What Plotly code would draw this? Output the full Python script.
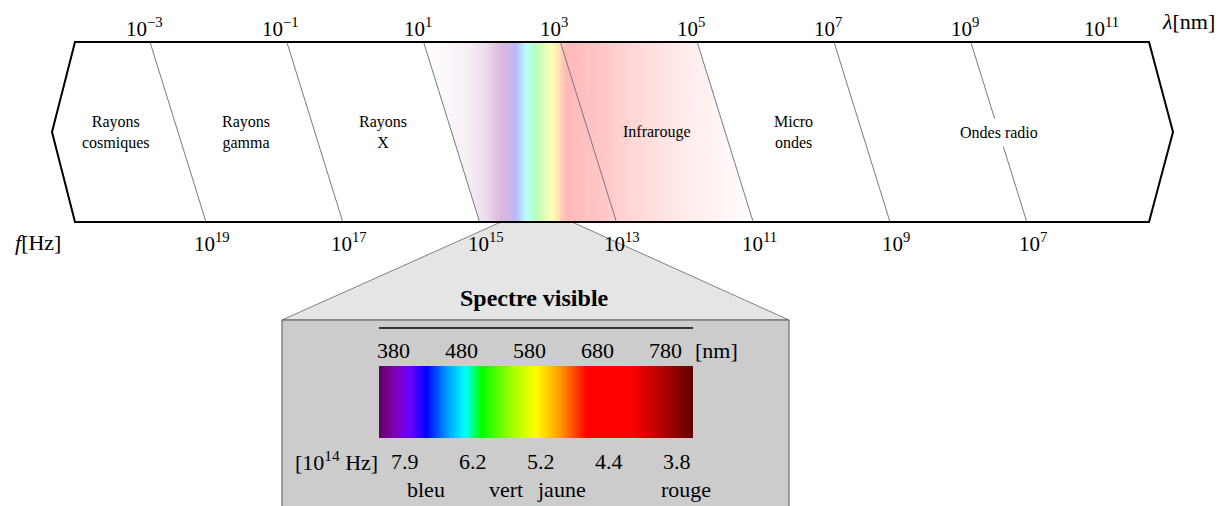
import numpy as np
import plotly.graph_objects as go

# ---------------- data ----------------
lambda_exp = [-3, -1, 1, 3, 5, 7, 9, 11]          # wavelength ticks, 10^e nm
freq_exp = [19, 17, 15, 13, 11, 9, 7]              # frequency ticks, 10^e Hz
band_names = ["Rayons<br>cosmiques", "Rayons<br>gamma", "Rayons<br>X",
              "Infrarouge", "Micro<br>ondes", "Ondes radio"]
band_center_exp = [-3.9, -2, 0, 4, 6, 9]          # band label centres (in log10 nm)
visible_nm = [380, 480, 580, 680, 780]             # visible tick labels [nm]
visible_freq = ["7.9", "6.2", "5.2", "4.4", "3.8"]  # [10^14 Hz]
color_names = ["bleu", "vert", "jaune", "rouge"]
color_name_nm = [428, 546, 628, 811]
visible_range_nm = [380, 780]
spectrum_nm = [380, 400, 420, 440, 465, 490, 510, 545, 580, 612, 645, 700, 740, 780]
spectrum_rgb = ["#610061", "#8200b5", "#6a00ff", "#0000ff", "#0092ff", "#00ffff",
                "#00ff00", "#92ff00", "#ffff00", "#ff9400", "#ff0000", "#ff0000",
                "#b50000", "#610000"]

# ---------------- geometry / style ----------------
FONT = "Liberation Serif"
X0, DEC, SLANT = 150.0, 68.4, 56.0
YT, YB = 42.0, 222.0
YM = (YT + YB) / 2
PAGE_OFF = 8  # default body margin of the html page


def xt(e):
    return X0 + (e - lambda_exp[0]) * DEC


def xmid(e):
    return xt(e) + SLANT / 2


# pastel gradient inside main band (offsets from the 10^1 line)
grad_off = [0, 45, 62, 77, 87, 92, 102, 112, 127, 135, 142, 177, 217, 257, 297, 337]
grad_col = ["#ffffff", "#f6eef6", "#ecdcee", "#dcb8dc", "#c8b8e8", "#b8b8ff", "#b8ffff",
            "#b8ffb8", "#ffffb8", "#ffe0b8", "#ffb8b8", "#ffc6c6", "#ffdada", "#ffeaea",
            "#fff5f5", "#ffffff"]

# inset geometry
BX0, BX1, BY0, BY1 = 379.0, 693.0, 366.0, 438.0
LBL0, LBLK = 393.0, 0.68


def lx(nm):
    return LBL0 + (nm - visible_nm[0]) * LBLK


fig = go.Figure()

# main band gradient
g0 = xt(1)
gx_edges = np.arange(g0, g0 + grad_off[-1] + 1, 1.0)
gz = [(gx_edges[:-1] + 0.5).tolist()]
gcs = [[o / grad_off[-1], c] for o, c in zip(grad_off, grad_col)]
fig.add_trace(go.Heatmap(z=gz, x=gx_edges, y=[YT, YB], colorscale=gcs,
                         zmin=g0, zmax=g0 + grad_off[-1], showscale=False,
                         hoverinfo="skip", zsmooth=False))

# inset spectrum bar
bx_edges = np.arange(BX0, BX1 + 0.5, 1.0)
centers = bx_edges[:-1] + 0.5
wl = visible_range_nm[0] + (centers - BX0) / (BX1 - BX0) * (visible_range_nm[1] - visible_range_nm[0])
scs = [[(n - spectrum_nm[0]) / (spectrum_nm[-1] - spectrum_nm[0]), c]
       for n, c in zip(spectrum_nm, spectrum_rgb)]
fig.add_trace(go.Heatmap(z=[wl.tolist()], x=bx_edges, y=[BY0, BY1], colorscale=scs,
                         zmin=spectrum_nm[0], zmax=spectrum_nm[-1], showscale=False,
                         hoverinfo="skip", zsmooth=False))

shapes = []
# callout trapezoid and box (below traces)
TL, TR, BOXT = 501.0, 572.0, 320.0
BL, BR = 282.0, 789.0
shapes.append(dict(type="path", layer="below",
                   path=f"M {TL},{YB} L {TR},{YB} L {BR},{BOXT} L {BL},{BOXT} Z",
                   fillcolor="#e5e5e5", line=dict(color="#808080", width=1)))
shapes.append(dict(type="rect", layer="below", x0=BL, x1=BR, y0=BOXT, y1=530,
                   fillcolor="#cccccc", line=dict(color="#555555", width=1)))

# masks to clip gradient into the parallelogram
xl_t, xl_b = xt(1), xt(1) + SLANT
shapes.append(dict(type="path", layer="above",
                   path=f"M {xl_t-2},{YT} L {xl_t},{YT} L {xl_b},{YB} L {xl_t-2},{YB} Z",
                   fillcolor="white", line=dict(width=0)))
xr_t, xr_b = xt(5), xt(5) + SLANT
shapes.append(dict(type="path", layer="above",
                   path=f"M {xr_t},{YT} L {g0+grad_off[-1]+3},{YT} L {g0+grad_off[-1]+3},{YB} L {xr_b},{YB} Z",
                   fillcolor="white", line=dict(width=0)))

# dividers
for e in lambda_exp[:-1]:
    shapes.append(dict(type="line", layer="above", x0=xt(e), y0=YT, x1=xt(e) + SLANT, y1=YB,
                       line=dict(color="#7a7a7a", width=1)))

# outline
xl = xt(lambda_exp[0]) - 75
tipl = xt(lambda_exp[0]) - 98
xr = xt(lambda_exp[-1]) + 41.4
tipr = xr + 24
shapes.append(dict(type="path", layer="above",
                   path=f"M {xl},{YT} L {xr},{YT} L {tipr},{YM} L {xr},{YB} L {xl},{YB} L {tipl},{YM} Z",
                   line=dict(color="black", width=2)))

# inset top line
shapes.append(dict(type="line", layer="above", x0=BX0, x1=BX1, y0=328, y1=328,
                   line=dict(color="black", width=1.3)))

ann = []


def A(x, y, text, size, **kw):
    d = dict(x=x, y=y, xref="x", yref="y", text=text, showarrow=False,
             font=dict(family=FONT, size=size, color="black"))
    d.update(kw)
    ann.append(d)


for e in lambda_exp:
    A(xt(e) - 6, 27, f"10<sup>{str(e).replace('-', '−')}</sup>", 21)
for e, f in zip(lambda_exp, freq_exp):
    A(xt(e) + SLANT + 6, 242, f"10<sup>{f}</sup>", 21)
A(1188, 21, "<i>λ</i>[nm]", 22)
A(38, 242, "<i>f</i>[Hz]", 22)

for name, ce in zip(band_names, band_center_exp):
    if name == "Ondes radio":
        A(xmid(ce), YM, name, 16, bgcolor="white", borderpad=5)
    else:
        A(xmid(ce), YM, name, 16)

A((BL + BR) / 2 - 1, 298, "<b>Spectre visible</b>", 24)
for nm in visible_nm:
    A(lx(nm), 350, str(nm), 22)
A(BX1, 350, "[nm]", 22, xanchor="left")
for nm, fq in zip(visible_nm, visible_freq):
    A(lx(nm) + 12, 461, fq, 22)
A(BX0 + 1, 461, "[10<sup>14</sup> Hz]", 22, xanchor="right")
for nm, cn in zip(color_name_nm, color_names):
    A(lx(nm), 489, cn, 22)

fig.update_layout(
    width=1228, height=506, margin=dict(l=0, r=0, t=0, b=0),
    paper_bgcolor="white", plot_bgcolor="white", showlegend=False,
    xaxis=dict(range=[PAGE_OFF, 1228 + PAGE_OFF], visible=False, fixedrange=True),
    yaxis=dict(range=[506 + PAGE_OFF, PAGE_OFF], visible=False, fixedrange=True),
    shapes=shapes, annotations=ann,
)
fig.write_html("out.html")
